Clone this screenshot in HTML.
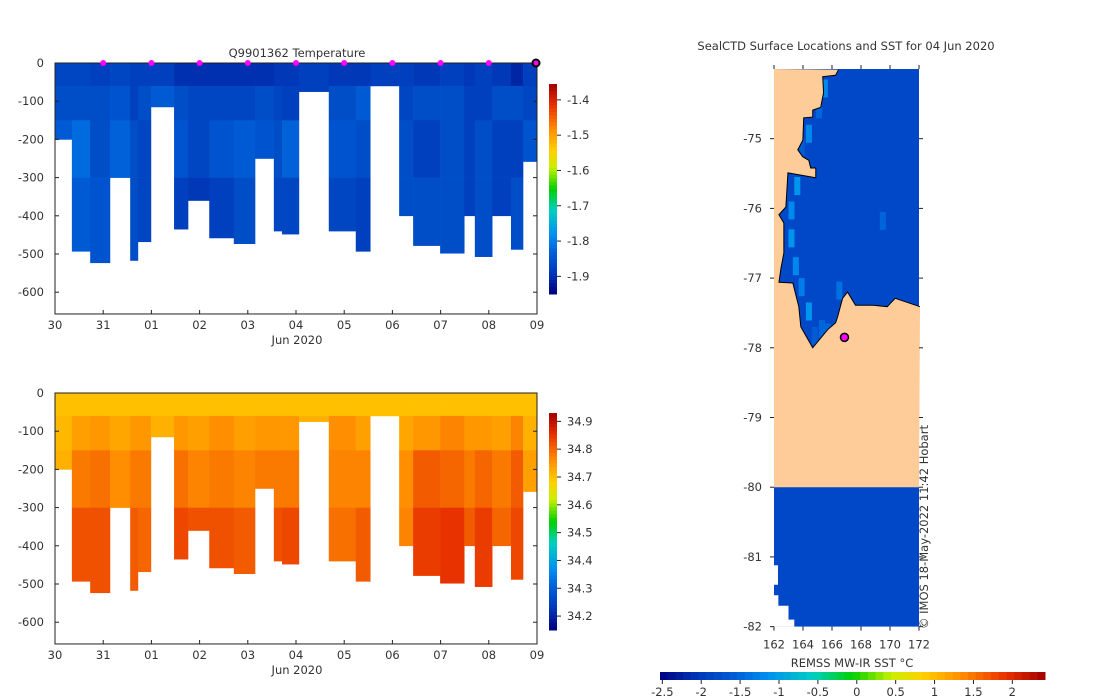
<!DOCTYPE html>
<html><head><meta charset="utf-8">
<style>
body{margin:0;background:#fff;}
svg{display:block;font-family:"DejaVu Sans","Liberation Sans",sans-serif;}
text{fill:#333;font-size:11.5px;}
</style></head>
<body>
<svg id="root" width="1100" height="700" viewBox="0 0 1100 700">
<g id="topPanel"></g>
<g id="botPanel"></g>
<g id="mapPanel"></g>
</svg>
<script>
// ---- profile data ----
const colStart=[0,0.35,0.73,1.14,1.56,1.72,1.99,2.47,2.76,3.20,3.71,4.15,4.54,4.71,5.06,5.68,6.24,6.54,7.14,7.43,7.99,8.49,8.71,9.07,9.46,9.71];
const colEnd=10.0;
const colDepth=[200,493,523,300,517,468,115,435,360,458,473,250,440,448,75,440,493,60,400,478,498,400,507,400,488,258];
const bandEdges=[0,60,150,300,1000];
const tempVals=[
[-1.87,-1.86,-1.84,-1.84],[-1.87,-1.86,-1.82,-1.84],[-1.88,-1.86,-1.86,-1.85],[-1.87,-1.85,-1.83,-1.84],
[-1.88,-1.88,-1.86,-1.86],[-1.88,-1.86,-1.87,-1.87],[-1.88,-1.84,-1.84,-1.84],[-1.9,-1.86,-1.85,-1.88],
[-1.9,-1.87,-1.87,-1.89],[-1.9,-1.87,-1.85,-1.88],[-1.9,-1.87,-1.84,-1.86],[-1.9,-1.86,-1.85,-1.86],
[-1.89,-1.87,-1.86,-1.87],[-1.89,-1.88,-1.83,-1.87],[-1.88,-1.88,-1.88,-1.88],[-1.89,-1.86,-1.85,-1.87],
[-1.89,-1.84,-1.86,-1.88],[-1.88,-1.88,-1.88,-1.88],[-1.88,-1.87,-1.86,-1.86],[-1.89,-1.86,-1.88,-1.86],
[-1.88,-1.86,-1.86,-1.86],[-1.89,-1.88,-1.88,-1.88],[-1.88,-1.88,-1.86,-1.86],[-1.89,-1.86,-1.88,-1.88],
[-1.91,-1.86,-1.88,-1.86],[-1.88,-1.87,-1.85,-1.85]];
const salVals=[
[34.70,34.71,34.72,34.73],[34.70,34.74,34.78,34.82],[34.70,34.75,34.79,34.82],[34.70,34.73,34.76,34.78],
[34.70,34.75,34.78,34.81],[34.70,34.75,34.78,34.80],[34.70,34.72,34.74,34.76],[34.70,34.75,34.79,34.83],
[34.70,34.74,34.77,34.82],[34.70,34.76,34.78,34.82],[34.70,34.74,34.77,34.81],[34.70,34.75,34.78,34.78],
[34.70,34.75,34.78,34.82],[34.70,34.75,34.78,34.83],[34.70,34.72,34.72,34.72],[34.70,34.76,34.77,34.79],
[34.70,34.74,34.77,34.81],[34.70,34.70,34.70,34.70],[34.70,34.73,34.76,34.77],[34.70,34.75,34.81,34.84],
[34.70,34.77,34.80,34.85],[34.70,34.75,34.78,34.81],[34.70,34.75,34.80,34.84],[34.70,34.74,34.78,34.80],
[34.70,34.77,34.81,34.83],[34.70,34.72,34.74,34.75]];
const dayLabels=['30','31','01','02','03','04','05','06','07','08','09'];
const depthTicks=[0,-100,-200,-300,-400,-500,-600];
const tempTicks=[-1.4,-1.5,-1.6,-1.7,-1.8,-1.9];
const salTicks=[34.9,34.8,34.7,34.6,34.5,34.4,34.3,34.2];
const markerDays=[1,2,3,4,5,6,7,8,9];
// ---- map data ----
const coastLon=[166.45,166.25,165.36,165.42,165.22,164.67,164.67,164.05,163.99,163.64,163.99,164.4,164.53,164.88,164.88,162.96,162.82,162.34,162.68,162.68,162.48,162.34,163.3,163.71,163.85,164.67,165.7,166.25,166.38,166.73,167.07,167.62,168.85,169.81,170.36,172.07];
const coastLat=[-74.01,-74.09,-74.11,-74.34,-74.55,-74.59,-74.69,-74.70,-75.02,-75.16,-75.26,-75.31,-75.42,-75.42,-75.56,-75.49,-75.98,-76.09,-76.21,-76.64,-76.86,-77.06,-77.07,-77.41,-77.70,-78.0,-77.74,-77.64,-77.56,-77.29,-77.2,-77.39,-77.39,-77.41,-77.29,-77.41];
const stripLon=[165.3,164.9,164.2,163.7,163.4,163.0,163.0,163.3,163.7,164.2,165.5,166.3,166.9,164.6,165.1,169.3];
const stripLat=[-74.15,-74.45,-74.8,-75.0,-75.55,-75.9,-76.3,-76.7,-77.0,-77.35,-77.65,-77.05,-77.3,-77.7,-77.6,-76.05];
const stripVal=[-1.2,-1.5,-1.2,-1.6,-1.1,-1.2,-1.1,-1.2,-1.3,-1.1,-1.5,-1.4,-1.1,-1.6,-1.5,-1.5];
const shipLon=166.86, shipLat=-77.85;
const sstTicks=[-2.5,-2,-1.5,-1,-0.5,0,0.5,1,1.5,2];
const lonTicks=[162,164,166,168,170,172];
const latTicks=[-75,-76,-77,-78,-79,-80,-81,-82];

const NS='http://www.w3.org/2000/svg';
function mk(p,tag,a,txt){const e=document.createElementNS(NS,tag);for(const k in a)e.setAttribute(k,a[k]);if(txt!==undefined)e.textContent=txt;p.appendChild(e);return e;}
const stops=[[0,[0,0,128]],[0.1,[0,56,184]],[0.2,[0,96,216]],[0.28,[0,144,240]],[0.4,[0,208,192]],[0.5,[0,208,0]],[0.6,[200,240,0]],[0.68,[255,208,0]],[0.78,[255,144,0]],[0.9,[232,48,0]],[1,[160,0,0]]];
function cmap(t){t=Math.max(0,Math.min(1,t));for(let i=1;i<stops.length;i++){if(t<=stops[i][0]){const a=stops[i-1],b=stops[i],f=(t-a[0])/(b[0]-a[0]);const c=a[1].map((v,j)=>Math.round(v+(b[1][j]-v)*f));return `rgb(${c[0]},${c[1]},${c[2]})`;}}return 'rgb(160,0,0)';}

const xDay=d=>55+d*48.2;
function drawPanel(g,y0,vals,vmin,vmax,ticks,cbTop,cbBot,title){
  const yD=d=>y0+d*0.382;
  const yBottom=yD(657);
  for(let i=0;i<colStart.length;i++){
    const x0=xDay(colStart[i]),x1=xDay(i+1<colStart.length?colStart[i+1]:colEnd);
    for(let b=0;b<4;b++){
      const d0=bandEdges[b],d1=Math.min(bandEdges[b+1],colDepth[i]);
      if(d1<=d0)continue;
      const r=mk(g,'rect',{x:x0,y:yD(d0),width:x1-x0+0.3,height:yD(d1)-yD(d0)+0.3,fill:cmap((vals[i][b]-vmin)/(vmax-vmin))});
      
      
    }
  }
  const ax=mk(g,'rect',{x:xDay(0),y:y0,width:xDay(10)-xDay(0),height:yBottom-y0,fill:'none',stroke:'#222','stroke-width':1});
  
  
  dayLabels.forEach((l,i)=>{const x=xDay(i);mk(g,'line',{x1:x,x2:x,y1:yBottom,y2:yBottom-4,stroke:'#222'});
    const t=mk(g,'text',{x:x,y:yBottom+15,'text-anchor':'middle'},l);
    
    });
  const xl=mk(g,'text',{x:297,y:yBottom+30,'text-anchor':'middle'},'Jun 2020');
  
  
  depthTicks.forEach(v=>{const y=yD(-v);mk(g,'line',{x1:xDay(0),x2:xDay(0)+4,y1:y,y2:y,stroke:'#222'});mk(g,'line',{x1:xDay(10),x2:xDay(10)-4,y1:y,y2:y,stroke:'#222'});
    const t=mk(g,'text',{x:44,y:y+4,'text-anchor':'end'},String(v));
    
    });
  const cb=mk(g,'g',{});
  
  
  const n=60;for(let i=0;i<n;i++){const y=cbTop+(cbBot-cbTop)*i/n;mk(cb,'rect',{x:549,y:y,width:8,height:(cbBot-cbTop)/n+0.5,fill:cmap(1-(i+0.5)/n)});}
  ticks.forEach(v=>{const y=cbBot-(v-vmin)/(vmax-vmin)*(cbBot-cbTop);mk(cb,'line',{x1:557,x2:561,y1:y,y2:y,stroke:'#222'});
    const t=mk(cb,'text',{x:567,y:y+4},String(v));
    
    });
  if(title){const t=mk(g,'text',{x:297,y:57,'text-anchor':'middle','font-size':'12'},title);
    
    }
}
const topG=document.getElementById('topPanel'),botG=document.getElementById('botPanel');
drawPanel(topG,63,tempVals,-1.95,-1.355,tempTicks,84,294,'Q9901362  Temperature');
drawPanel(botG,393,salVals,34.15,34.93,salTicks,413,630,null);
markerDays.forEach(d=>{const c=mk(topG,'circle',{cx:xDay(d),cy:63,r:3,fill:'#ff00ff'});
  
  });
{const c=mk(topG,'circle',{cx:xDay(10)-1,cy:63,r:3.5,fill:'#ff00ff',stroke:'#000','stroke-width':2});
 
 }

// ---- map ----
const mapG=document.getElementById('mapPanel');
const xL=l=>774+(l-162)*14.5;
const yL=l=>69+(-74-l)*69.7;
{const w=mk(mapG,'rect',{x:xL(162),y:yL(-74),width:xL(172)-xL(162),height:yL(-82)-yL(-74),fill:'#0048c8'});
 
 }
stripLon.forEach((lo,i)=>{const r=mk(mapG,'rect',{x:xL(lo),y:yL(stripLat[i]),width:6,height:18,fill:cmap((stripVal[i]+2.53)/4.95)});
  
  });
{let pts=coastLon.map((lo,i)=>xL(lo)+','+yL(coastLat[i]));
 pts.push(xL(172)+','+yL(-80),xL(162)+','+yL(-80),xL(162)+','+yL(-74));
 const p=mk(mapG,'polygon',{points:pts.join(' '),fill:'#fdcc99',stroke:'none'});
 
 
 const c=mk(mapG,'polyline',{points:coastLon.map((lo,i)=>xL(lo)+','+yL(coastLat[i])).join(' '),fill:'none',stroke:'#000','stroke-width':1});
 
 }
{const r=mk(mapG,'rect',{x:xL(162),y:yL(-81.12),width:4,height:yL(-81.4)-yL(-81.12),fill:'#fff'});
 
 
 const q=mk(mapG,'polygon',{points:[xL(162)+','+yL(-81.55),xL(162.3)+','+yL(-81.55),xL(162.3)+','+yL(-81.7),xL(163)+','+yL(-81.7),xL(163)+','+yL(-81.9),xL(163.4)+','+yL(-81.9),xL(163.4)+','+yL(-82),xL(162)+','+yL(-82)].join(' '),fill:'#fff'});
 
 }
{const c=mk(mapG,'circle',{cx:xL(shipLon),cy:yL(shipLat),r:4,fill:'#ff00ff',stroke:'#000','stroke-width':1.5});
 
 }
lonTicks.forEach(v=>{const x=xL(v);mk(mapG,'line',{x1:x,x2:x,y1:yL(-82),y2:yL(-82)+4,stroke:'#222'});mk(mapG,'line',{x1:x,x2:x,y1:yL(-74),y2:yL(-74)-4,stroke:'#222'});
  const t=mk(mapG,'text',{x:x,y:yL(-82)+22,'text-anchor':'middle'},String(v));
  
  });
latTicks.forEach(v=>{const y=yL(v);mk(mapG,'line',{x1:xL(162)-4,x2:xL(162),y1:y,y2:y,stroke:'#222'});mk(mapG,'line',{x1:xL(172),x2:xL(172)+4,y1:y,y2:y,stroke:'#222'});
  const t=mk(mapG,'text',{x:762,y:y+4,'text-anchor':'end'},String(v));
  
  });
{const t=mk(mapG,'text',{x:846,y:50,'text-anchor':'middle','font-size':'12'},'SealCTD Surface Locations and SST for 04 Jun 2020');
 
 }
{const t=mk(mapG,'text',{x:0,y:0,transform:'translate(928,629) rotate(-90)','font-size':'10'},'© IMOS 18-May-2022 11:42 Hobart');
 
 }
const sMin=-2.53,sMax=2.42,cx0=660,cx1=1045;
const xS=v=>cx0+(v-sMin)/(sMax-sMin)*(cx1-cx0);
{const cb=mk(mapG,'g',{});
 
 
 const n=50;for(let i=0;i<n;i++){mk(cb,'rect',{x:cx0+(cx1-cx0)*i/n,y:672,width:(cx1-cx0)/n+0.5,height:8,fill:cmap((i+0.5)/n)});}
 sstTicks.forEach(v=>{const x=xS(v);mk(cb,'line',{x1:x,x2:x,y1:680,y2:684,stroke:'#222'});
   const t=mk(cb,'text',{x:x,y:696,'text-anchor':'middle'},String(v));
   
   });
 const t=mk(cb,'text',{x:852,y:667,'text-anchor':'middle'},'REMSS MW-IR SST °C');
 
 }
</script>
</body></html>
